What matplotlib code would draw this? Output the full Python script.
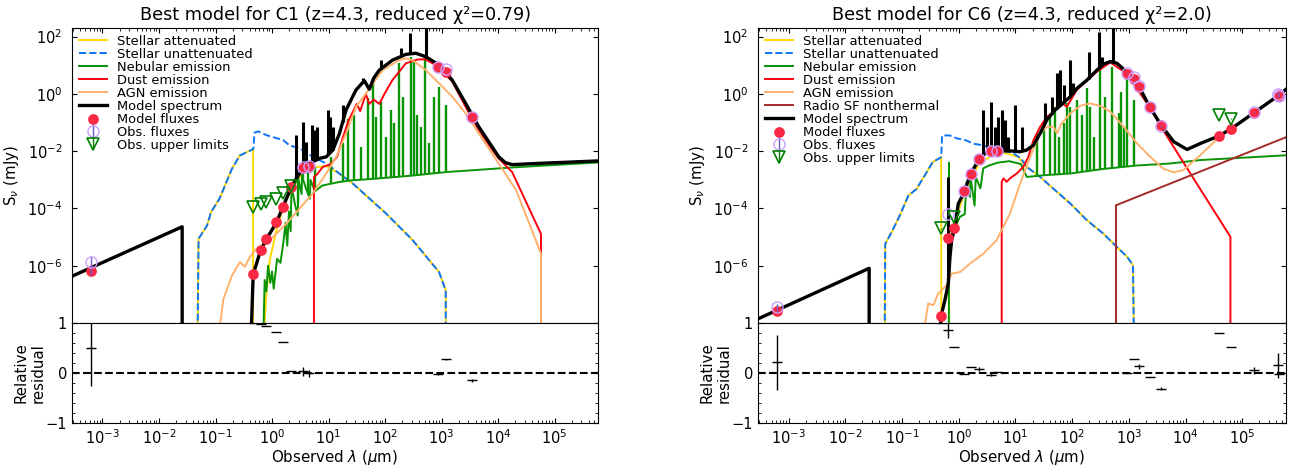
import numpy as np
import matplotlib.pyplot as plt
from matplotlib.ticker import LogLocator, NullLocator, AutoMinorLocator

# values: x = log10(lambda / um), y = log10(S_nu / mJy)

# ---------------- C1 ----------------
c1_att_x = [-1.32, -1.30, -1.27, -1.15, -1.08, -0.93, -0.71, -0.57, -0.385, -0.335, -0.335, -0.16, -0.10, -0.04,
            0.078, 0.195, 0.343, 0.55, 0.80, 0.96, 1.19, 1.43, 2.02, 2.49, 2.956, 3.074, 3.076]
c1_att_y = [-9.0, -5.05, -4.97, -4.60, -4.13, -3.66, -2.62, -2.15, -1.98, -1.92, -9.0, -9.0, -6.97, -5.81,
            -4.76, -4.00, -3.30, -2.75, -2.55, -2.52, -2.78, -3.13, -4.18, -5.11, -6.22, -6.86, -9.0]
c1_unatt_x = [-1.32, -1.30, -1.27, -1.15, -1.08, -0.93, -0.71, -0.57, -0.385, -0.33, -0.31, -0.24, -0.10, 0.02,
              0.195, 0.31, 0.49, 0.72, 0.96, 1.19, 1.43, 2.02, 2.49, 2.956, 3.074, 3.076]
c1_unatt_y = [-9.0, -5.05, -4.97, -4.60, -4.13, -3.66, -2.62, -2.15, -1.98, -1.92, -1.35, -1.31, -1.44, -1.51,
              -1.61, -1.80, -1.90, -2.20, -2.43, -2.78, -3.13, -4.18, -5.11, -6.22, -6.86, -9.0]
c1_neb_x = [-0.16, -0.13, -0.10, -0.07, -0.03, 0.00, 0.03, 0.09, 0.15, 0.20, 0.24, 0.27, 0.30, 0.33, 0.345, 0.40,
            0.455, 0.47, 0.525, 0.53, 0.60, 0.67, 0.68, 0.76, 0.89, 1.18, 1.40, 1.77, 2.50, 3.08, 4.32, 5.9]
c1_neb_y = [-9.0, -6.5, -6.9, -6.0, -6.6, -6.2, -6.8, -5.76, -5.9, -5.2, -4.5, -5.3, -4.1, -4.8, -3.2, -3.8,
            -4.25, -3.0, -3.5, -2.85, -3.3, -3.66, -3.0, -3.4, -3.20, -3.08, -3.02, -2.97, -2.85, -2.73, -2.56, -2.38]
c1_nebline_x = [0.46, 0.548, 0.636, 0.753, 1.047, 1.252, 1.341, 1.458, 1.576, 1.693, 1.781, 1.840, 1.928, 2.016,
                2.104, 2.163, 2.251, 2.310, 2.457, 2.515, 2.574, 2.633, 2.71, 2.78, 2.868, 2.956, 3.073]
c1_nebline_y = [-2.78, -2.55, -2.55, -2.55, -2.20, -1.73, -0.86, -0.74, -1.85, -0.16, 0.43, -0.80, -0.27, -1.50,
                -0.56, -1.03, 1.07, -0.10, 1.30, 1.18, -0.74, -1.15, 1.24, -1.73, -0.10, 0.25, -0.39]
c1_dust_x = [0.742, 0.742, 0.80, 0.90, 1.04, 1.15, 1.25, 1.35, 1.45, 1.50, 1.56, 1.61, 1.66, 1.72, 1.80, 1.90,
             1.99, 2.13, 2.37, 2.57, 2.71, 2.93, 3.19, 3.426, 3.66, 3.90, 4.01, 4.25, 4.76, 4.76]
c1_dust_y = [-9.0, -2.90, -2.80, -2.55, -2.45, -2.20, -1.55, -0.95, -0.55, -0.35, -0.60, -0.30, 0.00, -0.35,
             -0.20, -0.35, 0.00, 0.48, 1.07, 1.20, 1.21, 0.97, 0.43, -0.45, -1.26, -1.96, -2.25, -2.73, -4.89, -9.0]
c1_agn_x = [-0.98, -0.86, -0.71, -0.567, -0.48, -0.39, -0.275, -0.098, 0.078, 0.254, 0.49, 0.72, 0.96, 1.136,
            1.311, 1.487, 1.664, 1.958, 2.25, 2.37, 2.486, 2.72, 2.956, 3.19, 3.426, 3.66, 3.95, 4.32, 4.76, 4.76]
c1_agn_y = [-9.0, -7.16, -6.35, -5.87, -6.04, -5.69, -5.40, -5.23, -4.88, -4.53, -4.00, -3.48, -2.78, -2.20,
            -1.38, -0.45, 0.02, 0.83, 1.18, 1.24, 1.18, 0.83, 0.37, -0.10, -0.68, -1.38, -2.25, -3.36, -5.57, -9.0]
c1_model_x = [-3.6, -1.59, -1.59, -0.38, -0.345, -0.333, -0.198, -0.098, 0.078, 0.195, 0.343, 0.431, 0.548,
              0.665, 0.841, 0.959, 1.076, 1.194, 1.311, 1.487, 1.634, 1.722, 1.80, 1.898, 2.133, 2.368, 2.544,
              2.720, 2.955, 3.19, 3.426, 3.66, 3.896, 4.013, 4.13, 4.25, 4.68, 5.9]
c1_model_y = [-6.42, -4.64, -9.0, -9.0, -7.0, -6.30, -5.44, -5.07, -4.49, -3.94, -3.24, -2.95, -2.60,
              -2.43, -2.25, -2.20, -1.96, -1.38, -0.56, 0.14, 0.46, 0.16, 0.55, 0.83, 1.18, 1.38, 1.42,
              1.30, 1.01, 0.48, -0.33, -1.15, -1.85, -2.20, -2.40, -2.47, -2.43, -2.33]
c1_modline_x = [0.431, 0.548, 0.607, 0.707, 0.753, 0.794, 0.988, 1.035, 1.076, 1.252, 1.605, 1.928, 2.28, 2.44, 2.72]
c1_modline_y = [-1.44, -0.97, -1.67, -1.09, -1.26, -1.15, -0.56, -0.80, -1.15, -0.39, 0.54, 1.18, 1.59, 2.12, 2.6]

c1_filt = [-3.21, -0.334, -0.198, -0.098, 0.078, 0.195, 0.343, 0.556, 0.653, 2.944, 3.074, 3.532]
c1_mod = [-6.19, -6.30, -5.44, -5.07, -4.49, -3.94, -3.24, -2.58, -2.55, 0.93, 0.78, -0.82]
c1_det_x = [-3.21, 0.556, 0.653, 2.944, 3.074, 3.532]
c1_det_y = [-5.88, -2.56, -2.52, 0.95, 0.86, -0.82]
c1_det_frac = [0.64, 0.03, 0.03, 0.02, 0.01, 0.03]
c1_ul_x = [-0.334, -0.198, -0.098, 0.078, 0.195, 0.343]
c1_ul_y = [-3.95, -3.84, -3.78, -3.68, -3.45, -3.22]
c1_res = [0.49, 0.99, 0.97, 0.93, 0.81, 0.62, 0.04, 0.03, -0.01, -0.02, 0.27, -0.15]
c1_res_err = [0.75, 0, 0, 0, 0, 0, 0, 0.09, 0.07, 0.02, 0.015, 0.03]

# ---------------- C6 ----------------
c6_att_x = [-1.307, -1.297, -1.184, -1.041, -0.888, -0.744, -0.601, -0.458, -0.310, -0.307, -0.177, -0.172,
            -0.131, -0.069, 0.074, 0.207, 0.360, 0.586, 0.790, 1.046, 1.199, 1.435, 1.731, 1.967, 2.259, 2.55,
            2.785, 2.969, 3.071, 3.092]
c6_att_y = [-9.0, -5.24, -4.83, -4.25, -3.55, -3.32, -2.85, -2.38, -2.21, -9.0, -9.0, -6.0,
            -5.1, -4.5, -3.6, -2.95, -2.45, -2.15, -2.05, -2.2, -2.55, -2.90, -3.42, -3.83, -4.41, -4.88,
            -5.34, -5.69, -5.98, -9.0]
c6_unatt_x = [-1.307, -1.297, -1.184, -1.041, -0.888, -0.744, -0.601, -0.458, -0.310, -0.294, -0.161, -0.039,
              0.125, 0.268, 0.432, 0.688, 0.944, 1.097, 1.199, 1.435, 1.731, 1.967, 2.259, 2.55, 2.785, 2.969,
              3.071, 3.092]
c6_unatt_y = [-9.0, -5.24, -4.83, -4.25, -3.55, -3.32, -2.85, -2.38, -2.21, -1.45, -1.45, -1.55,
              -1.62, -1.74, -1.80, -1.95, -2.05, -2.25, -2.55, -2.90, -3.42, -3.83, -4.41, -4.88, -5.34, -5.69,
              -5.98, -9.0]
c6_neb_x = [-0.174, -0.173, -0.170, -0.127, -0.039, 0.023, 0.105, 0.135, 0.197, 0.207, 0.279, 0.299, 0.381,
            0.432, 0.534, 0.688, 0.892, 1.097, 1.199, 1.506, 1.967, 2.55, 3.143, 3.731, 4.258, 5.9]
c6_neb_y = [-9.0, -2.40, -5.2, -4.88, -4.53, -4.29, -4.2, -3.1, -3.6, -2.9, -3.9, -2.9, -3.3,
            -2.6, -2.5, -2.4, -2.35, -2.45, -2.9, -2.84, -2.78, -2.62, -2.50, -2.43, -2.31, -2.13]
c6_nebline_x = [1.373, 1.496, 1.609, 1.700, 1.759, 1.847, 1.905, 1.967, 2.082, 2.171, 2.259, 2.314, 2.376,
                2.494, 2.580, 2.70, 2.819, 2.867, 2.908, 2.966, 3.082]
c6_nebline_y = [-1.38, -1.15, -0.80, -0.45, -1.50, -1.03, -0.33, -0.45, -0.21, -0.74, 0.19, -0.45, -1.50,
                0.83, -0.10, 0.95, -0.68, 0.08, -1.15, 0.83, -0.21]
c6_dust_x = [0.757, 0.757, 0.787, 0.845, 0.903, 1.022, 1.138, 1.228, 1.317, 1.435, 1.552, 1.639, 1.731, 1.813,
             1.905, 2.082, 2.437, 2.672, 2.966, 3.366, 3.614, 4.084, 4.790, 4.790]
c6_dust_y = [-9.0, -3.07, -2.95, -3.07, -2.95, -2.78, -2.55, -2.20, -1.61, -1.15, -0.80, -0.68, -0.45, -0.31,
             -0.45, 0.14, 0.78, 1.10, 0.70, -0.47, -1.30, -2.78, -4.99, -9.0]
c6_agn_x = [-0.67, -0.54, -0.448, -0.362, -0.212, -0.127, 0.023, 0.197, 0.432, 0.667, 0.903, 1.082, 1.258,
            1.435, 1.552, 1.67, 1.731, 1.813, 1.967, 2.14, 2.314, 2.494, 2.672, 2.908, 3.143, 3.378, 3.614,
            3.788, 3.961, 4.258, 4.585, 4.81, 5.204, 5.629, 5.9]
c6_agn_y = [-9.0, -7.32, -7.38, -6.97, -6.68, -6.28, -6.22, -5.93, -5.58, -5.11, -4.18, -3.13, -2.20,
            -1.38, -1.15, -1.15, -1.38, -1.03, -0.68, -0.42, -0.33, -0.42, -0.62, -1.15, -1.73, -2.20, -2.62,
            -2.74, -2.66, -2.14, -1.52, -1.18, -0.68, -0.08, 0.28]
c6_radio_x = [2.772, 2.772, 5.9]
c6_radio_y = [-9.0, -3.89, -1.41]
c6_model_x = [-3.6, -1.58, -1.58, -0.33, -0.314, -0.244, -0.185, -0.155, -0.126, -0.067, -0.008, 0.092, 0.210,
              0.357, 0.463, 0.563, 0.728, 0.905, 1.081, 1.199, 1.317, 1.434, 1.552, 1.700, 1.847, 1.965, 2.082,
              2.259, 2.436, 2.553, 2.671, 2.789, 2.907, 2.966, 3.172, 3.366, 3.567, 3.79, 4.026, 4.261, 4.585,
              4.809, 5.204, 5.634, 5.9]
c6_model_y = [-7.91, -6.09, -9.0, -9.0, -7.77, -7.2, -6.62, -5.69, -5.11, -4.64, -3.83, -3.45, -2.78,
              -2.29, -2.08, -1.99, -1.99, -1.99, -2.02, -1.96, -1.79, -1.38, -0.91, -0.56, -0.31, -0.10, 0.19,
              0.48, 0.83, 1.04, 1.13, 1.07, 0.86, 0.72, 0.28, -0.45, -1.09, -1.67, -1.94, -1.73, -1.47,
              -1.21, -0.66, -0.06, 0.37]
c6_modline_x = [-0.185, 0.433, 0.504, 0.563, 0.640, 0.698, 0.769, 0.816, 0.875, 0.993, 1.111, 1.523, 1.641,
                1.729, 1.788, 1.847, 1.953, 2.023, 2.288, 2.465, 2.524, 2.713]
c6_modline_y = [-2.90, -0.56, -1.15, -0.27, -1.15, -0.80, -0.56, -0.91, -1.50, -0.39, -1.15, -0.33, -0.10,
                0.72, 0.83, 0.31, 1.18, 0.37, 1.48, 2.17, 1.30, 2.6]

c6_filt = [-3.20, -0.314, -0.185, -0.085, 0.092, 0.210, 0.357, 0.563, 0.669, 2.966, 3.084, 3.172, 3.366, 3.567,
           4.585, 4.809, 5.204, 5.634, 5.65]
c6_mod = [-7.57, -7.77, -5.02, -4.67, -3.38, -2.78, -2.29, -1.99, -1.99, 0.69, 0.51, 0.25, -0.45, -1.09,
          -1.47, -1.21, -0.66, -0.06, -0.05]
c6_det_x = [-3.20, -0.185, 0.092, 0.210, 0.357, 0.563, 0.669, 2.966, 3.084, 3.172, 3.366, 3.567, 5.204, 5.634, 5.65]
c6_det_y = [-7.45, -4.20, -3.38, -2.78, -2.29, -1.99, -1.99, 0.72, 0.58, 0.27, -0.45, -1.12, -0.64, -0.02, -0.06]
c6_det_frac = [0.25, 0.1, 0.03, 0.03, 0.03, 0.03, 0.03, 0.02, 0.02, 0.03, 0.03, 0.05, 0.05, 0.2, 0.05]
c6_ul_x = [-0.314, -0.085, 4.585, 4.809]
c6_ul_y = [-4.70, -4.30, -0.74, -0.86]
c6_res = [0.21, 1.0, 0.85, 0.51, -0.03, 0.11, 0.07, -0.04, 0.02, 0.0, 0.28, 0.13, -0.08, -0.32, 0.80, 0.51,
          0.05, 0.15, -0.03]
c6_res_err = [0.55, 0, 0.15, 0, 0, 0, 0.04, 0.03, 0, 0, 0, 0.05, 0, 0.03, 0, 0, 0.07, 0.25, 0]

XLIM = (10 ** -3.54, 10 ** 5.77)
YLIM = (1e-8, 2e2)


def p(v):
    return 10.0 ** np.asarray(v, dtype=float)


def sed_panel(fig, left, width, title, att, unatt, neb, nebline, dust, agn, radio, model, modline,
              filt, mod, det, det_frac, ul, res, res_err):
    ax = fig.add_axes([left, 0.3069, width, 0.6330])
    axr = fig.add_axes([left, 0.0923, width, 0.2146])
    ax.set_xscale('log')
    ax.set_yscale('log')

    ax.plot(p(att[0]), p(att[1]), color='gold', lw=1.4, label='Stellar attenuated')
    ax.plot(p(unatt[0]), p(unatt[1]), color='#0d75f8', lw=1.4, ls='--', label='Stellar unattenuated')
    ax.plot(p(neb[0]), p(neb[1]), color='#089404', lw=1.4, label='Nebular emission')
    base = np.interp(nebline[0], neb[0], neb[1])
    ax.vlines(p(nebline[0]), p(base), p(nebline[1]), color='#089404', lw=1.7)
    ax.plot(p(dust[0]), p(dust[1]), color='#ff000d', lw=1.4, label='Dust emission')
    ax.plot(p(agn[0]), p(agn[1]), color='#ffb16d', lw=1.4, label='AGN emission')
    if radio is not None:
        ax.plot(p(radio[0]), p(radio[1]), color='brown', lw=1.4, label='Radio SF nonthermal')
    ax.plot(p(model[0]), p(model[1]), color='k', lw=2.4, label='Model spectrum')
    base = np.interp(modline[0], model[0], model[1])
    ax.vlines(p(modline[0]), p(base), p(modline[1]), color='k', lw=2.2)

    ax.scatter(p(filt), p(mod), s=45, color='#fb2943', zorder=4, label='Model fluxes')
    dy = p(det[1])
    ax.errorbar(p(det[0]), dy, yerr=dy * np.array(det_frac), ls='', marker='o', mfc='none', ms=8,
                mec='#caa0ff', color='#6d5acf', capsize=0, lw=1, zorder=5, label='Obs. fluxes')
    uy = p(ul[1])
    ax.errorbar(p(ul[0]), uy, yerr=uy * 0.01, ls='', marker='v', mfc='none', ms=8, mec='g', mew=1.2,
                color='g', capsize=0, lw=1, zorder=5, label='Obs. upper limits')

    ax.set_xlim(XLIM)
    ax.set_ylim(YLIM)
    ax.set_yticks([1e-6, 1e-4, 1e-2, 1e0, 1e2])
    ax.yaxis.set_minor_locator(NullLocator())
    ax.xaxis.set_major_locator(LogLocator(base=10, numticks=20))
    ax.xaxis.set_minor_locator(LogLocator(base=10, subs=np.arange(2, 10), numticks=20))
    ax.tick_params(direction='in', which='both', top=True, right=True, bottom=False,
                   labelbottom=False, labelsize=10.5)
    ax.tick_params(axis='y', pad=7)
    ax.set_ylabel('S$_\\nu$ (mJy)', fontsize=10.8)
    ax.set_title(title, fontsize=12.7)
    ax.legend(loc='upper left', frameon=False, fontsize=9.4, labelspacing=0.0,
              borderaxespad=0.1, handlelength=2.2, handletextpad=0.75)

    axr.errorbar(p(filt), res, yerr=res_err, marker='_', ms=7, color='k', capsize=0, ls='None', lw=1)
    axr.axhline(0, ls='--', color='k', lw=1.5)
    axr.set_xscale('log')
    axr.set_xlim(XLIM)
    axr.set_ylim(-1, 1)
    axr.set_yticks([-1, 0, 1])
    axr.yaxis.set_minor_locator(AutoMinorLocator())
    axr.xaxis.set_major_locator(LogLocator(base=10, numticks=20))
    axr.xaxis.set_minor_locator(LogLocator(base=10, subs=np.arange(2, 10), numticks=20))
    axr.tick_params(direction='in', which='both', right=True, labelsize=10.5)
    axr.set_ylabel('Relative\nresidual', fontsize=10.8, labelpad=0)
    axr.set_xlabel('Observed $\\lambda$ ($\\mu$m)', fontsize=10.8, labelpad=1)


fig = plt.figure(figsize=(12.9, 4.66), dpi=100)

sed_panel(fig, 0.0558, 0.4078, 'Best model for C1 (z=4.3, reduced χ²=0.79)',
          (c1_att_x, c1_att_y), (c1_unatt_x, c1_unatt_y), (c1_neb_x, c1_neb_y),
          (c1_nebline_x, c1_nebline_y), (c1_dust_x, c1_dust_y), (c1_agn_x, c1_agn_y), None,
          (c1_model_x, c1_model_y), (c1_modline_x, c1_modline_y),
          c1_filt, c1_mod, (c1_det_x, c1_det_y), c1_det_frac, (c1_ul_x, c1_ul_y), c1_res, c1_res_err)

sed_panel(fig, 0.5876, 0.4093, 'Best model for C6 (z=4.3, reduced χ²=2.0)',
          (c6_att_x, c6_att_y), (c6_unatt_x, c6_unatt_y), (c6_neb_x, c6_neb_y),
          (c6_nebline_x, c6_nebline_y), (c6_dust_x, c6_dust_y), (c6_agn_x, c6_agn_y), (c6_radio_x, c6_radio_y),
          (c6_model_x, c6_model_y), (c6_modline_x, c6_modline_y),
          c6_filt, c6_mod, (c6_det_x, c6_det_y), c6_det_frac, (c6_ul_x, c6_ul_y), c6_res, c6_res_err)

fig.savefig('out.png', dpi=100)
